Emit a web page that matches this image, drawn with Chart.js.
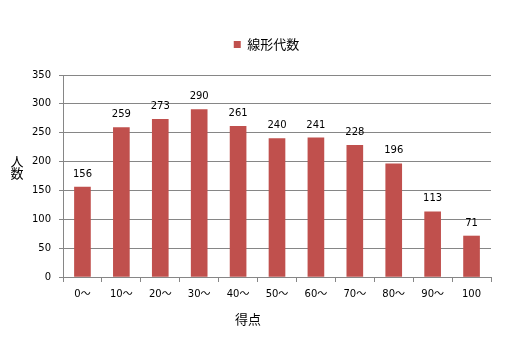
<!DOCTYPE html>
<html>
<head>
<meta charset="utf-8">
<script src="https://cdn.jsdelivr.net/npm/chart.js@4/dist/chart.umd.min.js"></script>
<style>
  html, body { margin: 0; padding: 0; background: #fff; }
  #wrap { width: 529px; height: 340px; }
</style>
</head>
<body>
<div id="wrap"><canvas id="scoreChart" width="529" height="340"></canvas></div>
<script>
// 得点分布のデータ
const categories = ['0〜', '10〜', '20〜', '30〜', '40〜', '50〜', '60〜', '70〜', '80〜', '90〜', '100'];
const students = [156, 259, 273, 290, 261, 240, 241, 228, 196, 113, 71];
const seriesName = '線形代数';
const yTicks = [0, 50, 100, 150, 200, 250, 300, 350];

const barColor = '#C0504D';
const lineColor = '#868686';
const jpFont = '"Noto Sans CJK JP", sans-serif';
const numFont = '"DejaVu Sans", "Noto Sans CJK JP", sans-serif';

// 棒の上に値を描く + 軸タイトル
const labelsPlugin = {
    id: 'extraText',
    beforeInit(chart) {
        const legend = chart.legend;
        if (legend) {
            const origFit = legend.fit;
            legend.fit = function () {
                origFit.call(this);
                this.height = 47;
            };
            const origDraw = legend.draw;
            legend.draw = function () {
                chart.ctx.save();
                chart.ctx.translate(21, 0);
                origDraw.call(this);
                chart.ctx.restore();
            };
        }
    },
    afterDatasetsDraw(chart) {
        const ctx = chart.ctx;
        const meta = chart.getDatasetMeta(0);
        ctx.save();
        ctx.font = '10px ' + numFont;
        ctx.fillStyle = '#000';
        ctx.textAlign = 'center';
        ctx.textBaseline = 'bottom';
        meta.data.forEach(function (bar, i) {
            ctx.fillText(String(students[i]), bar.x, bar.y - 8);
        });
        ctx.restore();
    },
    afterDraw(chart) {
        const ctx = chart.ctx;
        ctx.save();
        ctx.font = '13px ' + jpFont;
        ctx.fillStyle = '#000';
        ctx.textAlign = 'center';
        ctx.textBaseline = 'middle';
        // y軸タイトル(縦書き)
        ctx.fillText('人', 17, 161);
        ctx.fillText('数', 17, 173);
        // x軸タイトル
        ctx.fillText('得点', 248, 319);
        ctx.restore();
    }
};

const ctx = document.getElementById('scoreChart').getContext('2d');
const chart = new Chart(ctx, {
    type: 'bar',
    data: {
        labels: categories,
        datasets: [{
            label: seriesName,
            data: students,
            backgroundColor: barColor,
            borderWidth: 0,
            barThickness: 16
        }]
    },
    options: {
        responsive: false,
        animation: false,
        devicePixelRatio: 1,
        layout: { padding: { top: 28, left: 0, right: 38, bottom: 0 } },
        plugins: {
            legend: {
                display: true,
                position: 'top',
                labels: {
                    boxWidth: 7,
                    boxHeight: 7,
                    padding: 10,
                    color: '#000',
                    font: { size: 13, family: jpFont }
                }
            },
            tooltip: { enabled: false }
        },
        scales: {
            x: {
                afterFit(scale) { scale.height = 63; },
                grid: {
                    offset: true,
                    drawOnChartArea: false,
                    tickLength: 5,
                    color: lineColor
                },
                border: { color: lineColor },
                ticks: {
                    padding: 6,
                    color: '#000',
                    maxRotation: 0,
                    font: { size: 10, family: numFont }
                }
            },
            y: {
                min: 0,
                max: 350,
                afterFit(scale) { scale.width = 63; },
                afterBuildTicks(scale) {
                    scale.ticks = yTicks.map(v => ({ value: v }));
                },
                grid: {
                    color: lineColor,
                    tickLength: 4
                },
                border: { color: lineColor },
                ticks: {
                    padding: 8,
                    color: '#000',
                    font: { size: 10, family: numFont }
                }
            }
        }
    },
    plugins: [labelsPlugin]
});
</script>
</body>
</html>
